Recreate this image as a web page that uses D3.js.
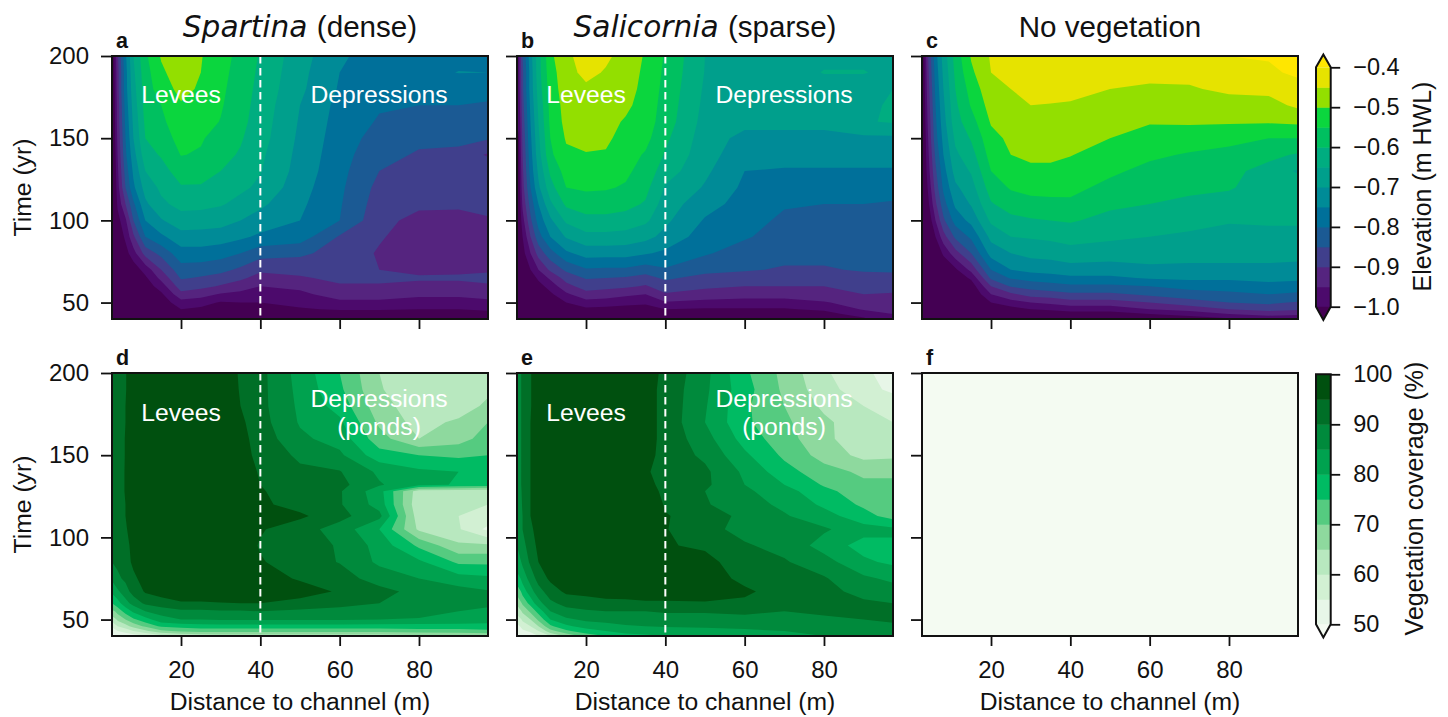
<!DOCTYPE html>
<html><head><meta charset="utf-8">
<script src="https://cdn.jsdelivr.net/npm/d3@7"></script>
<style>html,body{margin:0;background:#fff}svg{display:block}text{font-family:"Liberation Sans",Arial,sans-serif;fill:#111}</style>
</head><body><svg id="c" width="1448" height="717"></svg>
<script>
// Distance to channel (m) of each column; each list below is one column, from t=200 yr downward.
const DIST=[3,4,6,8,11,15,20,25,30,35,40,50,60,70,80,90,97];
const TIME_TOP=[200,190,180,170,160,150,140,130,120,110,100,90,80,70,65,60,55,50,46,43,40];
const TIME_BOT=[200,190,180,170,160,150,140,132,128,120,113,105,95,85,75,67,60,55,50,46,43,40];
// Elevation, cm relative to HWL
const elevSpartina=[
[-102,-102,-103,-103,-104,-104,-105,-106,-107,-108,-110,-111,-112,-113,-114,-115,-115,-115,-115,-115,-115],
[-91,-92,-92,-93,-93,-94,-95,-96,-97,-99,-102,-104,-106,-108,-109,-110,-111,-112,-112,-112,-112],
[-76,-77,-77,-78,-79,-80,-81,-83,-85,-90,-96,-99,-102,-105,-106,-107,-108,-109,-110,-110,-110],
[-65,-66,-67,-68,-69,-70,-72,-74,-76,-81,-85,-91,-97,-103,-104,-105,-106,-107,-108,-109,-109],
[-56,-57,-57.5,-58,-59,-60,-62,-65,-68,-71,-75,-80,-88,-98,-101,-103,-104,-105,-106,-107,-108],
[-49.5,-51,-52.5,-55,-56,-57.5,-59.5,-62,-64,-66,-70.5,-76,-83.5,-90,-93.5,-97.5,-101,-103,-105,-106,-107],
[-46,-47,-48.5,-50.5,-52,-53.2,-54.8,-57.5,-60.5,-63.5,-67,-72,-77,-82,-84.5,-87.5,-91.5,-97,-100,-103,-106],
[-49.7,-50,-50.7,-51.5,-53,-54.5,-55.5,-58,-60.5,-63.5,-67.5,-72,-77,-82.5,-85.5,-88.5,-93,-98,-101,-104,-106],
[-53,-53.5,-54,-54.5,-55.2,-57,-58.5,-60,-62,-64.5,-68,-72.5,-78,-83.5,-87,-90.5,-95.5,-100.5,-103.5,-105.5,-107],
[-56.5,-57,-57.5,-58,-58.5,-59.5,-60.5,-62,-64,-66.5,-70,-74,-80,-86,-89,-92.5,-96.5,-100,-103,-105,-107],
[-60.5,-61,-61.5,-62,-62.5,-63,-64,-64.7,-66,-69,-72,-76,-83,-89,-92,-95,-97.5,-100,-103,-105.5,-107],
[-68,-68.5,-69,-70,-70.5,-71,-71.5,-72,-73,-74,-75,-77.5,-84,-88.5,-90.5,-94,-96,-98.5,-100.5,-103,-105],
[-74,-75,-75.5,-76.5,-77,-77.5,-78,-78.5,-79,-79.5,-80,-85.5,-87,-88,-89,-90.5,-93,-96,-99.5,-102,-105],
[-78,-78.5,-79,-79.5,-80.5,-82,-83.5,-85,-86.5,-87.5,-88.5,-89.5,-90.5,-90,-88,-91,-93,-96,-99.5,-102,-105],
[-77,-77,-78,-80,-82,-84,-85.5,-86.5,-87.5,-89,-91.5,-92.5,-93,-92,-89,-92,-94,-97,-100,-103,-106],
[-77,-74.8,-79,-80,-82,-84,-86,-87,-88,-89.5,-91,-92,-93,-91.5,-89,-92,-94,-97,-100,-103,-106],
[-78,-75,-78.5,-80.5,-83,-84.5,-90.5,-87,-86,-87,-91,-92,-93,-91,-88,-91,-93.5,-96,-99,-102,-105]];
const elevSalicornia=[
[-97,-97,-98,-99,-100,-101,-102,-103,-104,-105,-106,-108,-110,-112,-114,-115,-115,-115,-115,-115,-115],
[-85,-86,-86,-87,-88,-89,-90,-91,-92,-94,-97,-100,-102,-104,-107,-109,-110,-111,-112,-112,-112],
[-72,-73,-73,-74,-75,-76,-77,-78,-80,-83,-86,-90,-95,-100,-103,-105,-107,-108,-109,-110,-110],
[-62,-62,-63,-64,-65,-66,-67,-69,-71,-75,-78,-82,-88,-95,-99,-102,-105,-106,-107,-108,-109],
[-51,-52,-52.5,-53.5,-54,-55,-56,-59,-62,-66,-71,-75,-82,-89,-94,-98,-101,-104,-105,-106,-107],
[-46.5,-47,-47.5,-48,-48.5,-49.5,-51,-53,-55,-59,-64,-69.5,-76,-84,-88,-91.5,-96,-100,-103,-105,-107],
[-42,-43.5,-46,-47,-48,-49,-50.2,-52.5,-54.2,-57.5,-61.5,-66.5,-73,-80.5,-84.5,-88,-91.5,-97,-101,-104,-107],
[-44,-45.5,-46.5,-47.5,-48.5,-49,-50.5,-52.5,-54.5,-57.5,-61.5,-66.5,-73,-81,-85,-88.5,-92.5,-97.5,-101.5,-104.5,-107],
[-47,-47.5,-48,-49,-50.5,-52,-53,-54,-55.5,-58.5,-62,-67,-73,-81,-85.5,-89,-94,-98.5,-102,-105,-107],
[-50.5,-51,-51.5,-52,-52.5,-53.5,-55.5,-57,-58.5,-60.5,-64,-68.5,-74.5,-82.5,-87,-90.5,-95,-99,-102.5,-105,-107],
[-55.5,-56,-56.5,-57,-57.5,-59,-60.5,-62.5,-65.5,-67.5,-69,-71.5,-76,-80.5,-84,-87.5,-90.5,-95.5,-100,-103,-106],
[-65,-65.2,-65.7,-66.2,-66.8,-67.5,-68,-69,-70.5,-73,-75.5,-77.5,-79.5,-83,-87,-89,-92,-96.5,-100.5,-104,-106],
[-66,-66.5,-67,-67.5,-68.5,-71.5,-73,-75,-76,-77,-78,-79.5,-82,-84.5,-87,-90,-93,-97,-100.5,-104,-106],
[-66.5,-67,-67,-67.5,-68.5,-71.5,-73,-75.5,-77.5,-79.5,-81,-82,-83.5,-85.5,-87.5,-90,-93,-97,-100.5,-103.5,-105],
[-66,-64.8,-67,-67.5,-68.5,-71.5,-73,-75.5,-77.5,-80,-81.5,-82.5,-83.5,-85.5,-87.5,-90,-92,-95.5,-99,-102,-103],
[-66,-64.8,-67,-66,-65.5,-71,-73,-75.5,-78,-80,-81.5,-82.5,-83.5,-84.5,-86.5,-88.5,-90,-92.5,-94.5,-97.5,-101],
[-66,-66,-65,-64.5,-64.5,-71,-73,-75.5,-78,-80.5,-81.5,-82.5,-83.5,-84.5,-86,-88,-90.5,-92.5,-94,-95,-96]];
const elevBare=[
[-102,-103,-103,-104,-104,-105,-105,-106,-107,-108,-109,-110,-111,-112,-113,-113,-113,-113,-113,-113,-113],
[-91,-92,-93,-94,-95,-96,-97,-98,-100,-102,-105,-108,-110,-111,-112,-112,-112,-112,-112,-112,-112],
[-77,-78,-79,-80,-81,-82,-84,-86,-88,-91,-95,-100,-105,-108,-109,-110,-110,-111,-111,-111,-111],
[-68,-69,-70,-71,-72,-73.5,-75,-77,-79,-82,-86,-92,-99,-105,-107,-108,-109,-110,-110,-111,-111],
[-58,-59,-60,-61,-62,-64,-66,-68,-71,-74,-78,-84,-92,-101,-104,-106,-107,-108,-109,-110,-110],
[-49.5,-51,-53,-54.5,-57,-59.5,-62,-64.5,-67,-69.5,-73.5,-79,-85,-93.5,-99,-103,-105,-107,-108,-109,-110],
[-44.5,-45,-46.5,-48,-49.5,-51.5,-53,-55,-57.5,-60.5,-64,-68.5,-73,-80,-84,-90,-95,-100,-104,-106,-108],
[-43,-43.5,-45,-46,-47.5,-49,-50,-52,-54.5,-57.5,-61.5,-65,-70,-75,-79.5,-84.5,-91,-97,-102,-105,-108],
[-42,-42.5,-43.5,-45,-46.5,-48,-49,-51,-53.5,-56.5,-60.5,-64.5,-68.5,-73.5,-78,-83,-88,-95,-100,-104,-108],
[-42,-42.5,-43.5,-45.2,-46.5,-48,-49,-51,-53,-56.5,-60,-64,-68,-73,-77,-82,-87,-94,-99,-103,-107],
[-42,-42.5,-43.5,-45.5,-47.5,-49,-49.8,-51.5,-53.5,-56,-59.5,-63,-67,-72,-76,-81,-86,-92,-98,-102,-106],
[-42.5,-43.5,-45,-46.5,-48.5,-50,-52,-54,-56.5,-59,-61.5,-64,-68,-72,-76,-81,-86,-92,-98,-102,-106],
[-42.5,-44,-45.5,-47.5,-49.5,-52.5,-54,-56.5,-58,-60,-62.5,-65,-68,-71,-74.5,-80,-84,-90,-95,-100,-105],
[-42,-43.5,-45.5,-47,-49.5,-52,-55.5,-57,-59,-61,-64,-65.5,-68.5,-71,-74,-78,-82.5,-87,-93,-98,-103],
[-40,-42,-44,-47,-49.5,-53,-57,-58.5,-59.5,-62,-64.5,-67,-68.5,-71,-74,-78,-81,-85,-90,-95,-101],
[-39.5,-41,-43.5,-47,-49.5,-55,-58.5,-62,-62.5,-63.5,-64.5,-66,-68.5,-71,-73.5,-76.5,-80,-84,-88,-93,-99],
[-39,-39,-42,-44,-49,-55,-60.5,-65.5,-62.5,-63.5,-64.5,-66,-68.5,-71.5,-74,-77,-81,-85.5,-89,-94,-100]];
// Vegetation coverage, %
const vegSpartina=[
[92,92,92,92,92,92,92,92,92,92,92,91,91,90,86,81,75,69,62,56,52,48],
[93,93,93,93,93,93,93,93,93,93,93,92,92,91,89,84,78,72,66,60,55,50],
[94.8,94.8,95,95,95.2,95.2,95.3,95.3,95.3,95,95,94.5,93.5,93,91,88,83,77,70,63,57,51],
[97,97,97,97,97,97,97,97,97,97,97,97,96.5,96,94,92,87,81,74,67,60,52],
[98,98,98,98,98,98,98,98,98,98,98,98,98,98,97,95.5,91,85,78,71,64,54],
[99,99,99,99,99,99,99,99,99,99,99,99,99,99,99,97,93,87,83,76,69,58],
[99,99,99,99,99,99,99,99,99,99,99,99,99,99,99,98,94.5,89,85,77,71,60],
[99,99,99,99,99,99,99,99,99,99,99,99,99,99,99,98,94.5,89,85,78,72,61],
[99,99,99,99,99,99,99,99,99,99,99,99,99,99,99,98,94.8,89.5,85.5,78,72,62],
[94.3,94.6,95,96,96.5,97,97.5,97.5,98,98,98,98,98,98,98,98,95,89.5,85.5,78,72,62],
[91.5,91.5,91.5,92,93,93.5,94.5,95,95.5,96,97,95.5,94.5,95.5,97,97.5,95,90,85.5,78,72,62],
[83,83.5,84,84.5,86,89,91,91.5,92,93,96,92,91,92,94.5,97,93.5,89,85.5,78,72,62],
[75,76,78,81,83,86,90.3,91.5,90.5,90.5,91.5,88,89.8,89.8,92,94.5,92,88,85.5,78,72,62],
[65,65.5,67,69,72,77,84,85.5,82,83,86.5,80,83,84,88,91.5,90,87.5,85,78,72,62],
[60.5,61,62,63,65,75,81,81.5,62,61,62,64,74,81,85,88.5,88,87,84.5,78,73,63],
[61,61,62,66,68,74,80,79.5,61,61,60,60.5,66,74,82,87,87.5,85,83.5,78,73,64],
[62,64,66,70,72,75,78,78,61,60,58,54,66,74,81,85.5,86,84,82.5,78,74,65]];
const vegSalicornia=[
[88,88,88,88,88,88,88,88,87,87,87,86,85,83,78,72,66,62,57,54,52,50],
[91,91,91,91,91,91,91,91,91,90.5,90,90,88,86,82,77,71,66,61,57,54,51],
[94.8,94.8,94.8,95,95,95,95,95,95,95,95,94.5,93,91,87,83,77,71,65,60,56,52],
[97,97,97,97,97,97,97,97,97,97,97,96,96,95,92,88,83,77,71,65,60,55],
[98,98,98,98,98,98,98,98,98,98,98,98,98,97.5,96,92.5,89,85,80,74,68,60],
[99,99,99,99,99,99,99,99,99,99,99,99,99,99,98,96,91.5,88.5,84,79,74,66],
[99,99,99,99,99,99,99,99,99,99,99,99,99,99,99,97,92,89.5,86,82,78,72],
[99,99,99,99,99,99,99,99,99,99,99,99,99,99,99,99,92.5,90,87,83,80,75],
[99,99,99,99,99,99,99,99,99,99,99,99,99,99,99,99,93,90,87.5,84.5,82,78],
[97,97,97,97,97,97,96,97,98,99,99,99,99,99,99,99,94,90,87.5,85,82.5,79],
[94,93.5,93.5,93.5,93.5,93,92,93,93.5,94.5,95.3,95.3,95.5,98,98,97,94.5,90.5,88,85.5,83,80],
[86.5,86,85.5,85,87,89,91,91,90,90.5,93,91.5,94,97,98,98,94.5,90.5,88,86,83,80],
[76,77,76,76,78,81,84,85,86,87,88.5,88.5,90.5,91.5,93.5,96,94,91,88.5,86.5,84,81],
[68.5,69,70,71,72,74,77,80,82,84,85.5,86,88.5,90.5,92,92.5,92,90,88.5,87,85,83],
[60.8,62,64,66,66.5,68,72,74.5,76.5,79,82,85.7,83,87,90.5,91,91,90.5,89.5,88,86.5,85],
[56,57,60,62,61,63.5,69,71,72,74,77,82,78,81,86,89,90.5,90.5,90,88.5,87.5,86],
[53,54,58,60,62,64,69,71,71,72,73,81,79,79,84,87,90,90.5,90.5,89.5,89,88]];
const DIST_NONE=[3,97], TIME_NONE=[200,40];
const vegNone=[[48,48],[48,48]];

// Filled-contour levels and colours
const elevLevels=[-100,-95,-90,-85,-80,-75,-70,-65,-60,-55,-50,-45,-40];
const elevColors=["#440053","#4c0a6c","#55247f","#403f8c","#1b5a94","#00709a","#008b97","#009f8c","#00ad80","#00c060","#0bd63e","#93df00","#e6e300","#ffe600"];
const vegLevels=[50,55,60,65,70,75,80,85,90,95];
const vegColors=["#f4fbf2","#e7f6e8","#d2f0d3","#b8e8bf","#8ed99e","#55cb80","#00bb63","#00a24f","#008a3c","#006f27","#00500f"];
const elevTicks=[-100,-90,-80,-70,-60,-50,-40];
const vegTicks=[50,60,70,80,90,100];
const xTicks=[20,40,60,80], yTicks=[50,100,150,200];

const svg=d3.select("#c");
const FS=24, LABEL=24.7;
const fmtM=d=>"\u2212"+(Math.abs(d)/100).toFixed(1);

const x0s=[112,517,922], W=376, H=263, y0s=[56,373];
const panels=[
 {col:0,row:0,letter:"a",data:elevSpartina,T:TIME_TOP,D:DIST,lv:elevLevels,co:elevColors,line:true,labels:[["Levees",181,103],["Depressions",379,103]]},
 {col:1,row:0,letter:"b",data:elevSalicornia,T:TIME_TOP,D:DIST,lv:elevLevels,co:elevColors,line:true,labels:[["Levees",181,103],["Depressions",379,103]]},
 {col:2,row:0,letter:"c",data:elevBare,T:TIME_TOP,D:DIST,lv:elevLevels,co:elevColors,line:false,labels:[]},
 {col:0,row:1,letter:"d",data:vegSpartina,T:TIME_BOT,D:DIST,lv:vegLevels,co:vegColors,line:true,labels:[["Levees",181,421],["Depressions",379,407],["(ponds)",379,435]]},
 {col:1,row:1,letter:"e",data:vegSalicornia,T:TIME_BOT,D:DIST,lv:vegLevels,co:vegColors,line:true,labels:[["Levees",181,421],["Depressions",379,407],["(ponds)",379,435]]},
 {col:2,row:1,letter:"f",data:vegNone,T:TIME_NONE,D:DIST_NONE,lv:vegLevels,co:vegColors,line:false,labels:[]}
];
const xDomain=[2.6,97.4], yDomain=[40,200];

panels.forEach((p,i)=>{
  const x0=x0s[p.col], y0=y0s[p.row];
  const x=d3.scaleLinear().domain(xDomain).range([0,W]);
  const y=d3.scaleLinear().domain(yDomain).range([H,0]);
  const g=svg.append("g").attr("transform",`translate(${x0},${y0})`);
  const cid="clip"+i;
  g.append("clipPath").attr("id",cid).append("rect").attr("width",W).attr("height",H);
  const plot=g.append("g").attr("clip-path",`url(#${cid})`);
  const nx=p.D.length, ny=p.T.length;
  const flat=[];
  for(let r=0;r<ny;r++)for(let c=0;c<nx;c++)flat.push(p.data[c][r]);
  const iToD=d3.scaleLinear().domain(d3.range(nx)).range(p.D);
  const iToT=d3.scaleLinear().domain(d3.range(ny)).range(p.T);
  const clampI=(v,n)=>Math.max(0,Math.min(n-1,v-0.5));
  const edgeX=v=>{const k=clampI(v,nx);return k<=0?0:k>=nx-1?W:x(iToD(k));};
  const edgeY=v=>{const k=clampI(v,ny);return k<=0?0:k>=ny-1?H:y(iToT(k));};
  const path=d3.geoPath(d3.geoTransform({point(a,b){this.stream.point(edgeX(a),edgeY(b));}}));
  plot.append("rect").attr("width",W).attr("height",H).attr("fill",p.co[0]);
  const contours=d3.contours().size([nx,ny]).thresholds(p.lv)(flat);
  plot.selectAll("path.band").data(contours).join("path").attr("class","band")
    .attr("d",path).attr("fill",(d,k)=>p.co[k+1]);
  if(p.line) plot.append("line").attr("x1",x(40)).attr("x2",x(40)).attr("y1",0).attr("y2",H)
    .attr("stroke","#fff").attr("stroke-width",2).attr("stroke-dasharray","7.5,4.5");
  p.labels.forEach(l=>g.append("text").attr("x",l[1]-112).attr("y",l[2]-y0).attr("text-anchor","middle")
    .attr("font-size",LABEL).style("fill","#fff").text(l[0]));
  // axes
  const ax=d3.axisBottom(x).tickValues(xTicks).tickSize(10).tickPadding(15).tickFormat(p.row===1?d3.format("d"):"");
  const ay=d3.axisLeft(y).tickValues(yTicks).tickSize(11).tickPadding(12).tickFormat(p.col===0?d3.format("d"):"");
  const gx=g.append("g").attr("transform",`translate(0,${H})`).call(ax);
  const gy=g.append("g").call(ay);
  [gx,gy].forEach(a=>{a.select(".domain").remove();
    a.selectAll("line").attr("stroke","#111").attr("stroke-width",1.8);
    a.selectAll("text").attr("font-size",FS).attr("font-family",'"Liberation Sans",Arial,sans-serif').style("fill","#111");});
  g.append("rect").attr("width",W).attr("height",H).attr("fill","none").attr("stroke","#111").attr("stroke-width",2);
  g.append("text").attr("x",4).attr("y",-8).attr("font-size",21.5).attr("font-weight","bold").text(p.letter);
  if(p.row===1) g.append("text").attr("x",W/2).attr("y",H+74).attr("text-anchor","middle").attr("font-size",LABEL).text("Distance to channel (m)");
  if(p.col===0) g.append("text").attr("transform",`translate(-81,${H/2}) rotate(-90)`).attr("text-anchor","middle").attr("font-size",LABEL).text("Time (yr)");
});

// Titles
const titleT=svg.append("g");
function title(cx,it,rest){
  const t=titleT.append("text").attr("x",cx).attr("y",37).attr("text-anchor","middle").attr("font-size",29.6);
  if(it) t.append("tspan").attr("font-family","DejaVu Sans").attr("font-style","italic").text(it+" ");
  t.append("tspan").text(rest);
}
title(300,"Spartina","(dense)");
title(705,"Salicornia","(sparse)");
title(1110,null,"No vegetation");

// Colour bars
function colorbar(top,bot,dom,levels,colors,ticks,fmt,label,tipTop,tipBot,labelX,labelY){
  const bx=1316,bw=14.7;
  const y=d3.scaleLinear().domain(dom).range([bot,top]);
  const g=svg.append("g");
  const edges=levels;
  edges.slice(0,-1).forEach((lv,i)=>g.append("rect").attr("x",bx).attr("width",bw)
    .attr("y",y(edges[i+1])).attr("height",y(lv)-y(edges[i+1])+0.5).attr("fill",colors[i+1]));
  g.append("path").attr("d",`M${bx},${bot}L${bx+bw},${bot}L${bx+bw/2},${tipBot}Z`).attr("fill",colors[0]);
  if(tipTop!==null) g.append("path").attr("d",`M${bx},${top}L${bx+bw},${top}L${bx+bw/2},${tipTop}Z`).attr("fill",colors[colors.length-1]);
  const outline=tipTop!==null
   ?`M${bx},${top}L${bx+bw/2},${tipTop}L${bx+bw},${top}L${bx+bw},${bot}L${bx+bw/2},${tipBot}L${bx},${bot}Z`
   :`M${bx},${top}L${bx+bw},${top}L${bx+bw},${bot}L${bx+bw/2},${tipBot}L${bx},${bot}Z`;
  g.append("path").attr("d",outline).attr("fill","none").attr("stroke","#111").attr("stroke-width",2);
  const a=d3.axisRight(y).tickValues(ticks).tickSize(9.5).tickPadding(13).tickFormat(fmt);
  const ga=g.append("g").attr("transform",`translate(${bx+bw},0)`).call(a);
  ga.select(".domain").remove();
  ga.selectAll("line").attr("stroke","#111").attr("stroke-width",1.8);
  ga.selectAll("text").attr("font-size",23.5).attr("font-family",'"Liberation Sans",Arial,sans-serif').style("fill","#111");
  g.append("text").attr("transform",`translate(${labelX},${labelY}) rotate(-90)`).attr("text-anchor","middle").attr("font-size",25).text(label);
}
colorbar(67.3,306.7,[-100,-40],elevLevels,elevColors,elevTicks,fmtM,"Elevation (m HWL)",54.5,320,1431,186.5);
colorbar(374.3,624.3,[50,100],[...vegLevels,100],vegColors,vegTicks,d3.format("d"),"Vegetation coverage (%)",null,637.5,1423,498.5);
</script></body></html>
